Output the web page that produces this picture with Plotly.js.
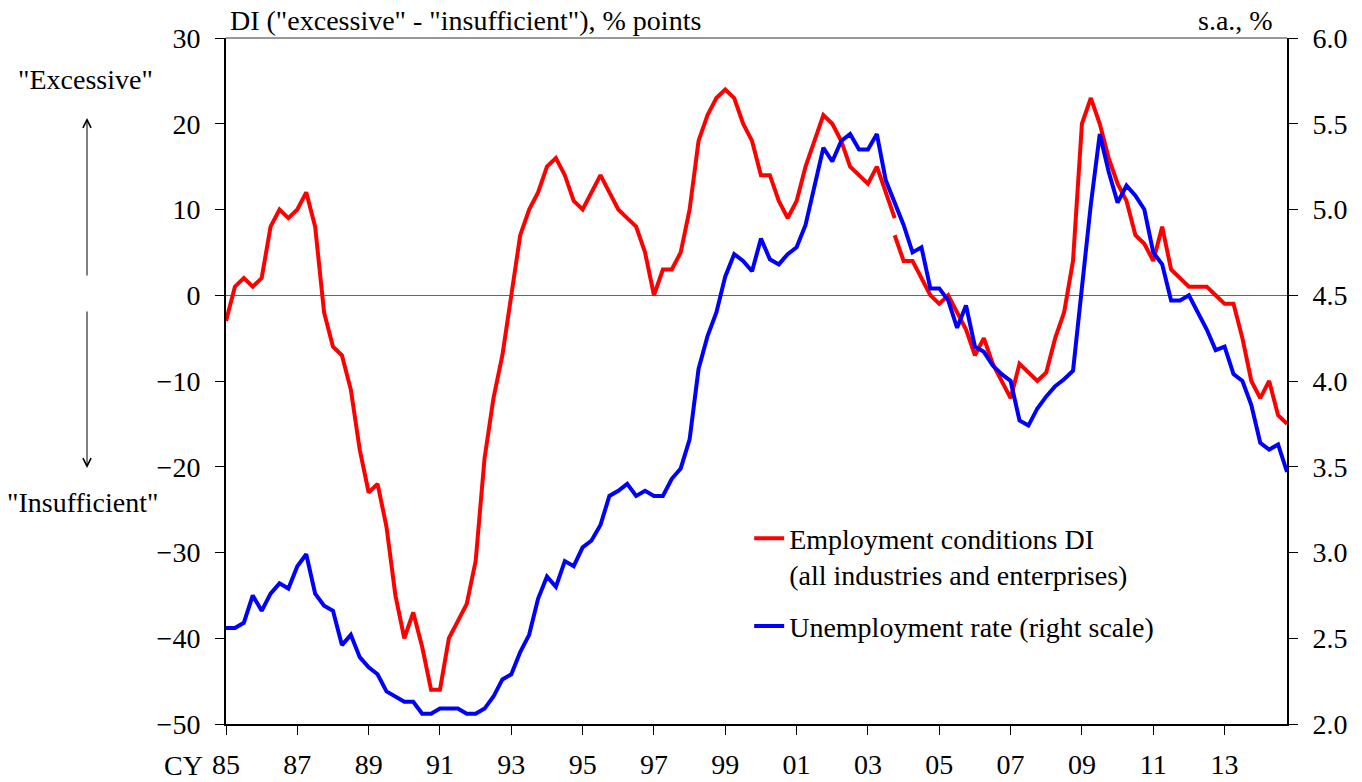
<!DOCTYPE html>
<html>
<head>
<meta charset="utf-8">
<script src="https://cdn.plot.ly/plotly-3.0.1.min.js"></script>
<style>html,body{margin:0;padding:0;background:#fff;}#chart{width:1362px;height:782px;}</style>
</head>
<body>
<div id="chart"></div>
<script>
// Quarters 1985Q1 .. 2014Q4
var startYear = 1985, endYear = 2014;
var quarters = [];
for (var yr = startYear; yr <= endYear; yr++) { for (var q = 1; q <= 4; q++) quarters.push(yr + 'Q' + q); }

// Employment conditions DI, old basis (1985Q1 - 2003Q4)
var diOld = [-3, 1, 2, 1, 2, 8, 10, 9, 10, 12, 8, -2, -6, -7, -11, -18, -23, -22, -27, -35,
  -40, -37, -41, -46, -46, -40, -38, -36, -31, -19, -12, -7, 0, 7, 10, 12, 15, 16, 14, 11,
  10, 12, 14, 12, 10, 9, 8, 5, 0, 3, 3, 5, 10, 18, 21, 23, 24, 23, 20, 18,
  14, 14, 11, 9, 11, 15, 18, 21, 20, 18, 15, 14, 13, 15, 12, 9];
// Employment conditions DI, new basis (2003Q4 - 2014Q4)
var diNew = [7, 4, 4, 2, 0, -1, 0, -2, -4, -7, -5, -8, -10, -12, -8, -9, -10, -9, -5, -2,
  4, 20, 23, 20, 16, 13, 11, 7, 6, 4, 8, 3, 2, 1, 1, 1, 0, -1, -1, -5, -10, -12, -10, -14, -15];
// Unemployment rate, s.a., % (1985Q1 - 2014Q4)
var unemp = [2.56, 2.56, 2.59, 2.75, 2.66, 2.76, 2.82, 2.79, 2.92, 2.99, 2.76, 2.69, 2.66, 2.46, 2.52, 2.39, 2.33, 2.29, 2.19, 2.16,
  2.13, 2.13, 2.06, 2.06, 2.09, 2.09, 2.09, 2.06, 2.06, 2.09, 2.16, 2.26, 2.29, 2.42, 2.52, 2.73, 2.86, 2.80, 2.95, 2.92,
  3.03, 3.07, 3.16, 3.33, 3.36, 3.40, 3.33, 3.36, 3.33, 3.33, 3.43, 3.49, 3.66, 4.07, 4.26, 4.40, 4.61, 4.74, 4.70, 4.64,
  4.83, 4.71, 4.68, 4.74, 4.78, 4.91, 5.14, 5.36, 5.28, 5.40, 5.44, 5.35, 5.35, 5.44, 5.17, 5.04, 4.91, 4.75, 4.78, 4.54,
  4.54, 4.47, 4.31, 4.44, 4.20, 4.17, 4.09, 4.04, 4.00, 3.77, 3.74, 3.84, 3.91, 3.97, 4.01, 4.06, 4.55, 5.03, 5.44, 5.22,
  5.04, 5.14, 5.08, 5.00, 4.75, 4.68, 4.47, 4.47, 4.50, 4.40, 4.30, 4.18, 4.20, 4.04, 4.00, 3.86, 3.64, 3.60, 3.63, 3.47];

var tickQuarters = ['1985Q1','1987Q1','1989Q1','1991Q1','1993Q1','1995Q1','1997Q1','1999Q1','2001Q1','2003Q1','2005Q1','2007Q1','2009Q1','2011Q1','2013Q1'];
var tickLabels = ['85','87','89','91','93','95','97','99','01','03','05','07','09','11','13'];

var seriesNames = ['Employment conditions DI<br>(all industries and enterprises)', 'Unemployment rate (right scale)'];

var xOld = quarters.slice(0, diOld.length);
var xNew = quarters.slice(diOld.length - 1, diOld.length - 1 + diNew.length);

var FONT = 'Liberation Serif, Times New Roman, serif';
var FS = 28;
var RED = '#ff0000', BLUE = '#0000ff';

var traces = [
  {x: xOld, y: diOld, type: 'scatter', mode: 'lines', name: seriesNames[0], legendgroup: 'a',
   line: {color: RED, width: 4}, yaxis: 'y'},
  {x: xNew, y: diNew, type: 'scatter', mode: 'lines', name: seriesNames[0], legendgroup: 'a', showlegend: false,
   line: {color: RED, width: 4}, yaxis: 'y'},
  {x: quarters, y: unemp, type: 'scatter', mode: 'lines', name: seriesNames[1], legendgroup: 'b',
   line: {color: BLUE, width: 4}, yaxis: 'y2'}
];

var layout = {
  width: 1362, height: 782,
  margin: {l: 226, r: 75, t: 38, b: 58, pad: 0},
  paper_bgcolor: '#fff', plot_bgcolor: '#fff',
  font: {family: FONT, size: FS, color: '#000'},
  showlegend: true,
  legend: {x: 0.4931, xanchor: 'left', y: 0.3069, yanchor: 'top', bgcolor: 'rgba(0,0,0,0)',
           font: {family: FONT, size: FS, color: '#000'}, tracegroupgap: 12, valign: 'top', traceorder: 'grouped'},
  xaxis: {type: 'category', categoryorder: 'array', categoryarray: quarters, range: [0, quarters.length - 1],
          showgrid: false, zeroline: false, showline: true, linecolor: '#000', linewidth: 2,
          ticks: 'outside', ticklen: 9, tickwidth: 1, tickcolor: '#000',
          tickmode: 'array', tickvals: tickQuarters, ticktext: tickLabels, tickangle: 0,
          tickfont: {family: FONT, size: FS}, ticklabelstandoff: 5},
  yaxis: {range: [-50, 30], dtick: 10, tick0: 0, showgrid: false, zeroline: true, zerolinecolor: '#666', zerolinewidth: 1,
          showline: true, linecolor: '#000', linewidth: 2, ticks: 'outside', ticklen: 9, tickwidth: 1, tickcolor: '#000',
          tickfont: {family: FONT, size: FS}, ticklabelstandoff: 9},
  yaxis2: {range: [2, 6], dtick: 0.5, tick0: 2, tickformat: '.1f', overlaying: 'y', side: 'right', showgrid: false, zeroline: false,
           showline: true, linecolor: '#000', linewidth: 2, ticks: 'outside', ticklen: 9, tickwidth: 1, tickcolor: '#000',
           tickfont: {family: FONT, size: FS}, ticklabelstandoff: 9},
  shapes: [
    {type: 'line', xref: 'paper', yref: 'paper', x0: 0, x1: 1, y0: 1, y1: 1, line: {color: '#333', width: 1}}
  ],
  annotations: [
    {text: 'DI ("excessive" - "insufficient"), % points', xref: 'paper', yref: 'paper', x: 0.002, y: 1.0262,
     xanchor: 'left', yanchor: 'middle', showarrow: false, font: {family: FONT, size: FS}},
    {text: 's.a., %', xref: 'paper', yref: 'paper', x: 0.9887, y: 1.0262,
     xanchor: 'right', yanchor: 'middle', showarrow: false, font: {family: FONT, size: FS}},
    {text: '"Excessive"', xref: 'paper', yref: 'paper', x: -0.132, y: 0.9388,
     xanchor: 'center', yanchor: 'middle', showarrow: false, font: {family: FONT, size: FS}},
    {text: '"Insufficient"', xref: 'paper', yref: 'paper', x: -0.1348, y: 0.3222,
     xanchor: 'center', yanchor: 'middle', showarrow: false, font: {family: FONT, size: FS}},
    {text: 'CY', xref: 'paper', yref: 'paper', x: -0.0198, y: -0.0598,
     xanchor: 'right', yanchor: 'middle', showarrow: false, font: {family: FONT, size: FS}},
    {text: '', xref: 'paper', yref: 'paper', x: -0.131, y: 0.8834, showarrow: true, axref: 'pixel', ayref: 'pixel',
     ax: 0, ay: 159, arrowhead: 5, arrowsize: 1.6, arrowwidth: 1, arrowcolor: '#000', standoff: 0, startstandoff: 0},
    {text: '', xref: 'paper', yref: 'paper', x: -0.131, y: 0.3732, showarrow: true, axref: 'pixel', ayref: 'pixel',
     ax: 0, ay: -158, arrowhead: 5, arrowsize: 1.6, arrowwidth: 1, arrowcolor: '#000', standoff: 0, startstandoff: 0}
  ]
};

Plotly.newPlot('chart', traces, layout, {displayModeBar: false, staticPlot: true});
</script>
</body>
</html>
